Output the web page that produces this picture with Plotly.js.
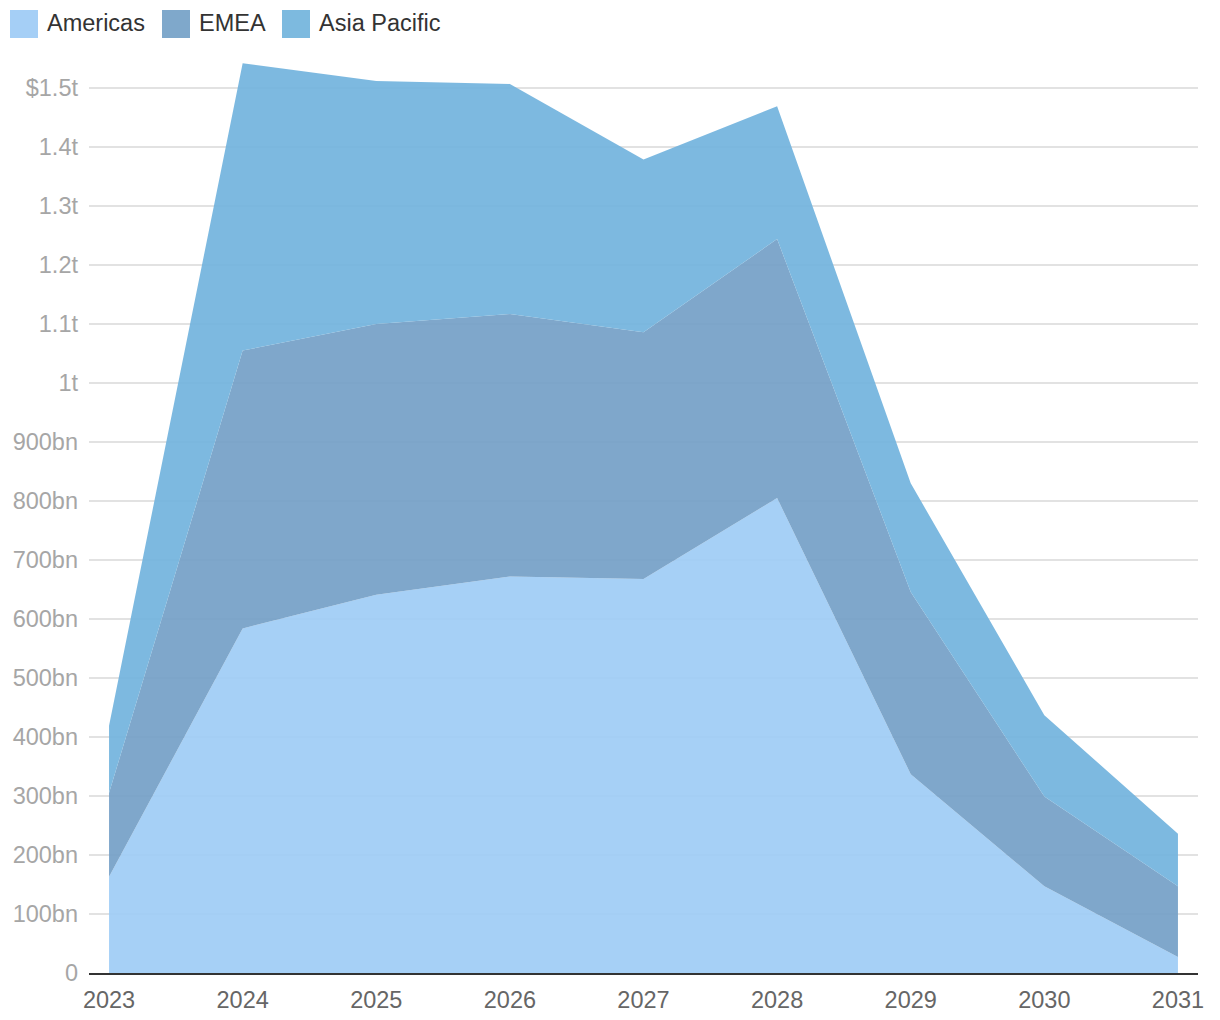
<!DOCTYPE html>
<html>
<head>
<meta charset="utf-8">
<script src="https://cdn.plot.ly/plotly-3.0.1.min.js"></script>
<style>html,body{margin:0;padding:0;background:#fff;}#chart{width:1220px;height:1020px;}</style>
</head>
<body>
<div id="chart"></div>
<script>
// Values in billions of dollars
const years = [2023, 2024, 2025, 2026, 2027, 2028, 2029, 2030, 2031];
const americas = [163, 584, 641, 672, 668, 805, 337, 147, 27];
const emea = [142, 471, 459, 445, 418, 439, 309, 152, 120];
const asiaPacific = [114, 487, 412, 390, 293, 225, 184, 138, 89];

const seriesNames = ['Americas', 'EMEA', 'Asia Pacific'];
const seriesColors = ['rgba(158,204,245,0.92)', 'rgba(116,159,199,0.92)', 'rgba(114,179,221,0.92)'];
const legendColors = ['#a5cff6', '#7fa8cb', '#7dbadf'];

const yTickVals = [0, 100, 200, 300, 400, 500, 600, 700, 800, 900, 1000, 1100, 1200, 1300, 1400, 1500];
const yTickText = ['0', '100bn', '200bn', '300bn', '400bn', '500bn', '600bn', '700bn', '800bn', '900bn', '1t', '1.1t', '1.2t', '1.3t', '1.4t', '$1.5t'];

const seriesValues = [americas, emea, asiaPacific];
const traces = seriesValues.map((vals, i) => ({
  type: 'scatter',
  mode: 'lines',
  x: years,
  y: vals,
  name: seriesNames[i],
  stackgroup: 'one',
  line: {width: 0, color: seriesColors[i]},
  fillcolor: seriesColors[i],
  hoverinfo: 'x+y+name',
  showlegend: false
}));

const font = 'Helvetica, "Liberation Sans", Arial, sans-serif';

// Custom legend (squares + labels)
const legendX = [10, 162, 282];
const shapes = [];
const annotations = [];
seriesNames.forEach((n, i) => {
  shapes.push({
    type: 'rect', xref: 'paper', yref: 'paper',
    x0: (legendX[i] - 89) / 1109, x1: (legendX[i] + 28 - 89) / 1109,
    y0: (973 - 10) / 918, y1: (973 - 38) / 918,
    fillcolor: legendColors[i], line: {width: 0}, layer: 'above'
  });
  annotations.push({
    xref: 'paper', yref: 'paper',
    x: (legendX[i] + 35 - 89) / 1109, y: (973 - 23) / 918,
    xanchor: 'left', yanchor: 'middle',
    text: n, showarrow: false,
    font: {family: font, size: 23.5, color: '#333'}
  });
});

const layout = {
  width: 1220, height: 1020,
  margin: {l: 89, r: 22, t: 55, b: 47},
  paper_bgcolor: '#fff', plot_bgcolor: '#fff',
  showlegend: false,
  font: {family: font, size: 23.5},
  xaxis: {
    range: [2022.85, 2031.15],
    tickvals: years,
    ticktext: years.map(String),
    showgrid: false,
    zeroline: false,
    showline: true, linecolor: '#333', linewidth: 2,
    ticks: '',
    ticklabelstandoff: 5,
    tickfont: {family: font, size: 23.5, color: '#666'}
  },
  yaxis: {
    range: [0, 1556],
    tickvals: yTickVals,
    ticktext: yTickText,
    showgrid: true, gridcolor: '#e2e2e2', gridwidth: 1.5,
    zeroline: false,
    showline: false,
    ticks: '',
    ticklabelstandoff: 10,
    tickfont: {family: font, size: 23.5, color: '#a6a6a6'}
  },
  shapes: shapes,
  annotations: annotations
};

Plotly.newPlot('chart', traces, layout, {displayModeBar: false, staticPlot: true});
</script>
</body>
</html>
